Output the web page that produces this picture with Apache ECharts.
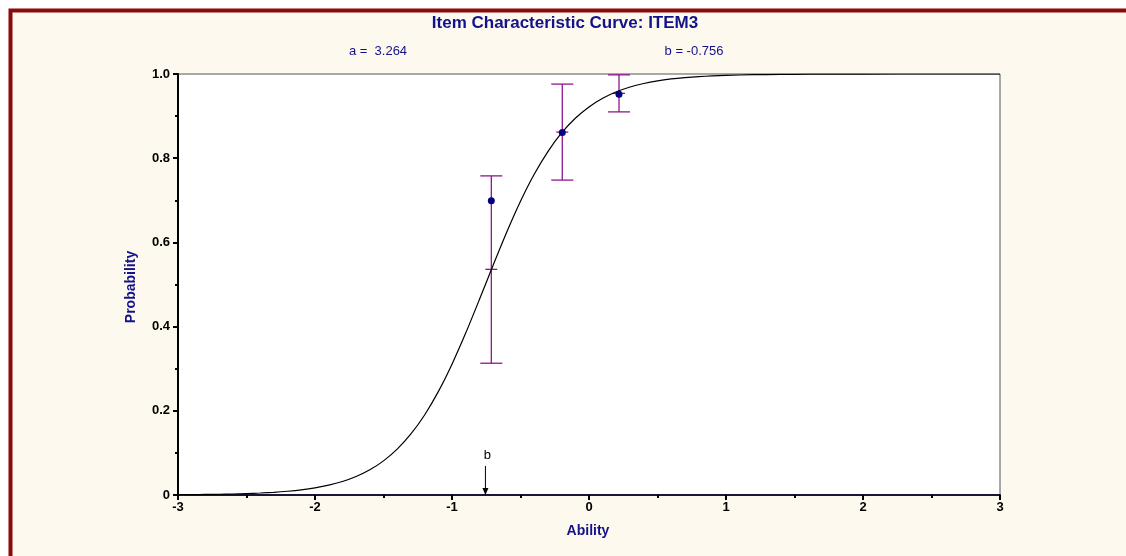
<!DOCTYPE html>
<html>
<head>
<meta charset="utf-8">
<title>Item Characteristic Curve: ITEM3</title>
<script src="https://cdn.jsdelivr.net/npm/echarts@6/dist/echarts.min.js"></script>
<style>
  html, body { margin: 0; padding: 0; background: #fff; }
  #chart { width: 1126px; height: 556px; }
</style>
</head>
<body>
<div id="chart"></div>
<script>
// item parameters
const aParam = 3.264;
const bParam = -0.756;

// curve
const curveAbility = [-3.0, -2.9, -2.8, -2.7, -2.6, -2.5, -2.4, -2.3, -2.2, -2.1,
  -2.0, -1.9, -1.8, -1.7, -1.6, -1.5, -1.4, -1.3, -1.2, -1.1,
  -1.0, -0.9, -0.8, -0.7, -0.6, -0.5, -0.4, -0.3, -0.2, -0.1,
  0.0, 0.1, 0.2, 0.3, 0.4, 0.5, 0.6, 0.7, 0.8, 0.9,
  1.0, 1.2, 1.4, 1.6, 1.8, 2.0, 2.5, 3.0];
const curveProb = [0.0007, 0.0009, 0.0013, 0.0018, 0.0024, 0.0034, 0.0047, 0.0064, 0.0089, 0.0123,
  0.0170, 0.0233, 0.0320, 0.0439, 0.0598, 0.0811, 0.1089, 0.1449, 0.1901, 0.2455,
  0.3108, 0.3846, 0.4642, 0.5456, 0.6246, 0.6976, 0.7617, 0.8158, 0.8599, 0.8948,
  0.9218, 0.9423, 0.9577, 0.9692, 0.9775, 0.9837, 0.9882, 0.9914, 0.9938, 0.9955,
  0.9968, 0.9983, 0.9991, 0.9995, 0.9998, 0.9999, 1.0, 1.0];

// observed groups with error bars
const groupAbility = [-0.713, -0.195, 0.219];
const groupObserved = [0.699, 0.861, 0.952];
const barLow = [0.313, 0.748, 0.910];
const barHigh = [0.758, 0.976, 0.998];
const barMid = [0.536, 0.862, 0.954];

const navy = '#12128a';
const chart = echarts.init(document.getElementById('chart'));

chart.setOption({
  animation: false,
  backgroundColor: '#fff',
  grid: {
    left: 178,
    right: 126,
    top: 74,
    bottom: 61,
    show: true,
    backgroundColor: '#fff',
    borderColor: '#555',
    borderWidth: 1
  },
  graphic: [
    {
      type: 'rect', z: -10, silent: true,
      shape: { x: 10.5, y: 10.5, width: 1130, height: 560 },
      style: { fill: '#fef9ee', stroke: '#8b0a0a', lineWidth: 4 }
    },
    {
      type: 'text', x: 565, y: 23,
      style: { text: 'Item Characteristic Curve: ITEM3', fill: navy, font: 'bold 17px "Liberation Sans", Arial, sans-serif', align: 'center', verticalAlign: 'middle' }
    },
    {
      type: 'text', x: 378, y: 51,
      style: { text: 'a =  ' + aParam.toFixed(3), fill: navy, font: '13px "Liberation Sans", Arial, sans-serif', align: 'center', verticalAlign: 'middle' }
    },
    {
      type: 'text', x: 694, y: 51,
      style: { text: 'b = ' + bParam.toFixed(3), fill: navy, font: '13px "Liberation Sans", Arial, sans-serif', align: 'center', verticalAlign: 'middle' }
    },
    {
      type: 'text', x: 588, y: 531,
      style: { text: 'Ability', fill: navy, font: 'bold 14px "Liberation Sans", Arial, sans-serif', align: 'center', verticalAlign: 'middle' }
    },
    {
      type: 'text', x: 131, y: 287, rotation: Math.PI / 2,
      style: { text: 'Probability', fill: navy, font: 'bold 14px "Liberation Sans", Arial, sans-serif', align: 'center', verticalAlign: 'middle' }
    }
  ],
  xAxis: {
    type: 'value',
    min: -3,
    max: 3,
    interval: 1,
    splitLine: { show: false },
    axisLine: { show: true, onZero: false, lineStyle: { color: '#1c1636', width: 2 } },
    axisTick: { show: true, length: 5, lineStyle: { color: '#000', width: 2 } },
    minorTick: { show: true, splitNumber: 2, length: 3, lineStyle: { color: '#000', width: 2 } },
    axisLabel: { color: '#000', fontWeight: 'bold', fontSize: 13, fontFamily: '"Liberation Sans", Arial, sans-serif', margin: 6 }
  },
  yAxis: {
    type: 'value',
    min: 0,
    max: 1,
    interval: 0.2,
    splitLine: { show: false },
    axisLine: { show: true, onZero: false, lineStyle: { color: '#000', width: 2 } },
    axisTick: { show: true, length: 5, lineStyle: { color: '#000', width: 2 } },
    minorTick: { show: true, splitNumber: 2, length: 3, lineStyle: { color: '#000', width: 2 } },
    axisLabel: {
      color: '#000', fontWeight: 'bold', fontSize: 13, fontFamily: '"Liberation Sans", Arial, sans-serif', margin: 8,
      formatter: v => v === 0 ? '0' : v.toFixed(1)
    }
  },
  series: [
    {
      name: 'ICC',
      type: 'line',
      data: curveAbility.map((x, i) => [x, curveProb[i]]),
      showSymbol: false,
      symbol: 'none',
      smooth: 0.25,
      lineStyle: { color: '#000', width: 1.2 },
      z: 3
    },
    {
      name: 'error bars',
      type: 'custom',
      data: groupAbility.map((x, i) => [x, barLow[i], barHigh[i], barMid[i]]),
      renderItem: function (params, api) {
        const x = api.value(0);
        const lo = api.coord([x, api.value(1)]);
        const hi = api.coord([x, api.value(2)]);
        const mid = api.coord([x, api.value(3)]);
        const st = { stroke: '#8e168e', lineWidth: 1.3 };
        return {
          type: 'group',
          children: [
            { type: 'line', shape: { x1: lo[0], y1: lo[1], x2: hi[0], y2: hi[1] }, style: st },
            { type: 'line', shape: { x1: lo[0] - 11, y1: lo[1], x2: lo[0] + 11, y2: lo[1] }, style: st },
            { type: 'line', shape: { x1: hi[0] - 11, y1: hi[1], x2: hi[0] + 11, y2: hi[1] }, style: st },
            { type: 'line', shape: { x1: mid[0] - 6, y1: mid[1], x2: mid[0] + 6, y2: mid[1] }, style: st }
          ]
        };
      },
      z: 2
    },
    {
      name: 'observed',
      type: 'scatter',
      data: groupAbility.map((x, i) => [x, groupObserved[i]]),
      symbol: 'circle',
      symbolSize: 7,
      itemStyle: { color: '#000080', opacity: 1 },
      z: 4
    },
    {
      name: 'b marker',
      type: 'custom',
      data: [[bParam, 0]],
      renderItem: function (params, api) {
        const p = api.coord([api.value(0), api.value(1)]);
        return {
          type: 'group',
          children: [
            { type: 'line', shape: { x1: p[0], y1: p[1] - 29, x2: p[0], y2: p[1] - 5 }, style: { stroke: '#000', lineWidth: 1 } },
            { type: 'polygon', shape: { points: [[p[0] - 3, p[1] - 7], [p[0] + 3, p[1] - 7], [p[0], p[1]]] }, style: { fill: '#000' } },
            { type: 'text', x: p[0] + 2, y: p[1] - 40, style: { text: 'b', fill: '#000', font: '13px "Liberation Sans", Arial, sans-serif', align: 'center', verticalAlign: 'middle' } }
          ]
        };
      },
      z: 5
    }
  ]
});
</script>
</body>
</html>
